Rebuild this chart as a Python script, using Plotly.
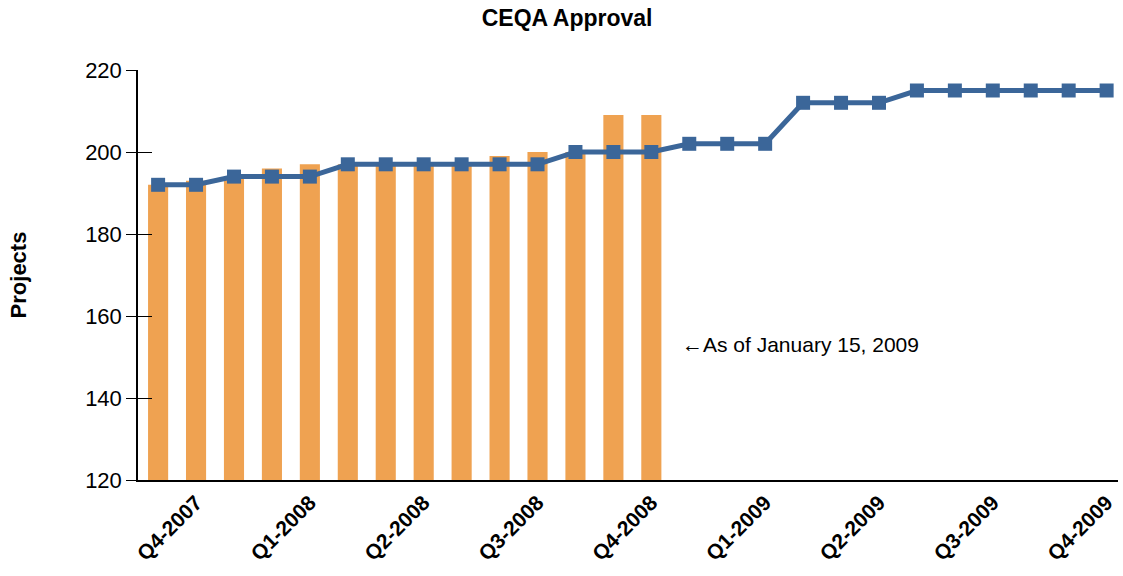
import plotly.graph_objects as go

# ─────────────── DATA ───────────────
months = ["2007-09", "2007-10", "2007-11", "2007-12",
          "2008-01", "2008-02", "2008-03", "2008-04", "2008-05", "2008-06",
          "2008-07", "2008-08", "2008-09", "2008-10", "2008-11", "2008-12",
          "2009-01", "2009-02", "2009-03", "2009-04", "2009-05", "2009-06",
          "2009-07", "2009-08", "2009-09", "2009-10"]
planned = [192, 192, 194, 194, 194, 197, 197, 197, 197, 197, 197, 200, 200,
           200, 202, 202, 202, 212, 212, 212, 215, 215, 215, 215, 215, 215]
actual = [192, 193, 194, 196, 197, 197, 197, 197, 197, 199, 200, 200, 209, 209]

tick_months = ["2007-10", "2008-01", "2008-04", "2008-07", "2008-10",
               "2009-01", "2009-04", "2009-07", "2009-10"]
tick_text = ["Q4-2007", "Q1-2008", "Q2-2008", "Q3-2008", "Q4-2008",
             "Q1-2009", "Q2-2009", "Q3-2009", "Q4-2009"]

note_month = "2008-11"
note_value = 153

# ─────────────── COLOURS ───────────────
ORANGE = "#EFA251"
BLUE = "#3B6699"
FONT = "Liberation Sans, Arial, sans-serif"

fig = go.Figure()
fig.add_trace(go.Bar(
    x=months[:len(actual)], y=actual,
    marker=dict(color=ORANGE, line=dict(width=0)),
    width=0.53,
    showlegend=False,
))
# line on the overlaid axis so its inside ticks get drawn too
fig.add_trace(go.Scatter(
    x=months, y=planned, yaxis="y2",
    mode="lines+markers",
    line=dict(color=BLUE, width=5),
    marker=dict(symbol="square", size=14, color=BLUE),
    showlegend=False,
))

fig.add_annotation(
    x=note_month, y=note_value, text="←As of January 15, 2009",
    showarrow=False, xanchor="left", yanchor="middle", xshift=-9,
    font=dict(size=21, color="#000000", family=FONT),
)

fig.update_layout(
    width=1123, height=576,
    paper_bgcolor="white", plot_bgcolor="white",
    font=dict(family=FONT, color="#000000"),
    margin=dict(l=138, r=5, t=70, b=96),
    bargap=0.47,
    title=dict(text="<b>CEQA Approval</b>", x=0.505, xanchor="center",
               y=0.968, yanchor="middle", font=dict(size=23)),
    xaxis=dict(
        type="category", categoryorder="array", categoryarray=months,
        range=[-0.53, 25.3],
        tickmode="array", tickvals=tick_months,
        ticktext=[f"<b>{t}</b>" for t in tick_text],
        tickangle=-45, tickfont=dict(size=21),
        ticks="", showgrid=False, zeroline=False,
        showline=True, linecolor="#000000", linewidth=2,
    ),
    yaxis=dict(
        range=[120, 220], tickvals=[120, 140, 160, 180, 200, 220],
        tickfont=dict(size=22), ticks="outside", ticklen=10,
        tickcolor="#000000", showgrid=False, zeroline=False,
        showline=True, linecolor="#000000", linewidth=1.5,
        title=dict(text="<b>Projects</b>", font=dict(size=22), standoff=52),
    ),
    yaxis2=dict(
        range=[120, 220], overlaying="y", side="left",
        tickvals=[120, 140, 160, 180, 200, 220],
        ticks="inside", ticklen=14, tickcolor="#000000",
        showticklabels=False, showgrid=False, zeroline=False, showline=False,
    ),
)

fig.write_html("out.html", config={"displayModeBar": False},
               post_script="document.body.style.margin='0';")
